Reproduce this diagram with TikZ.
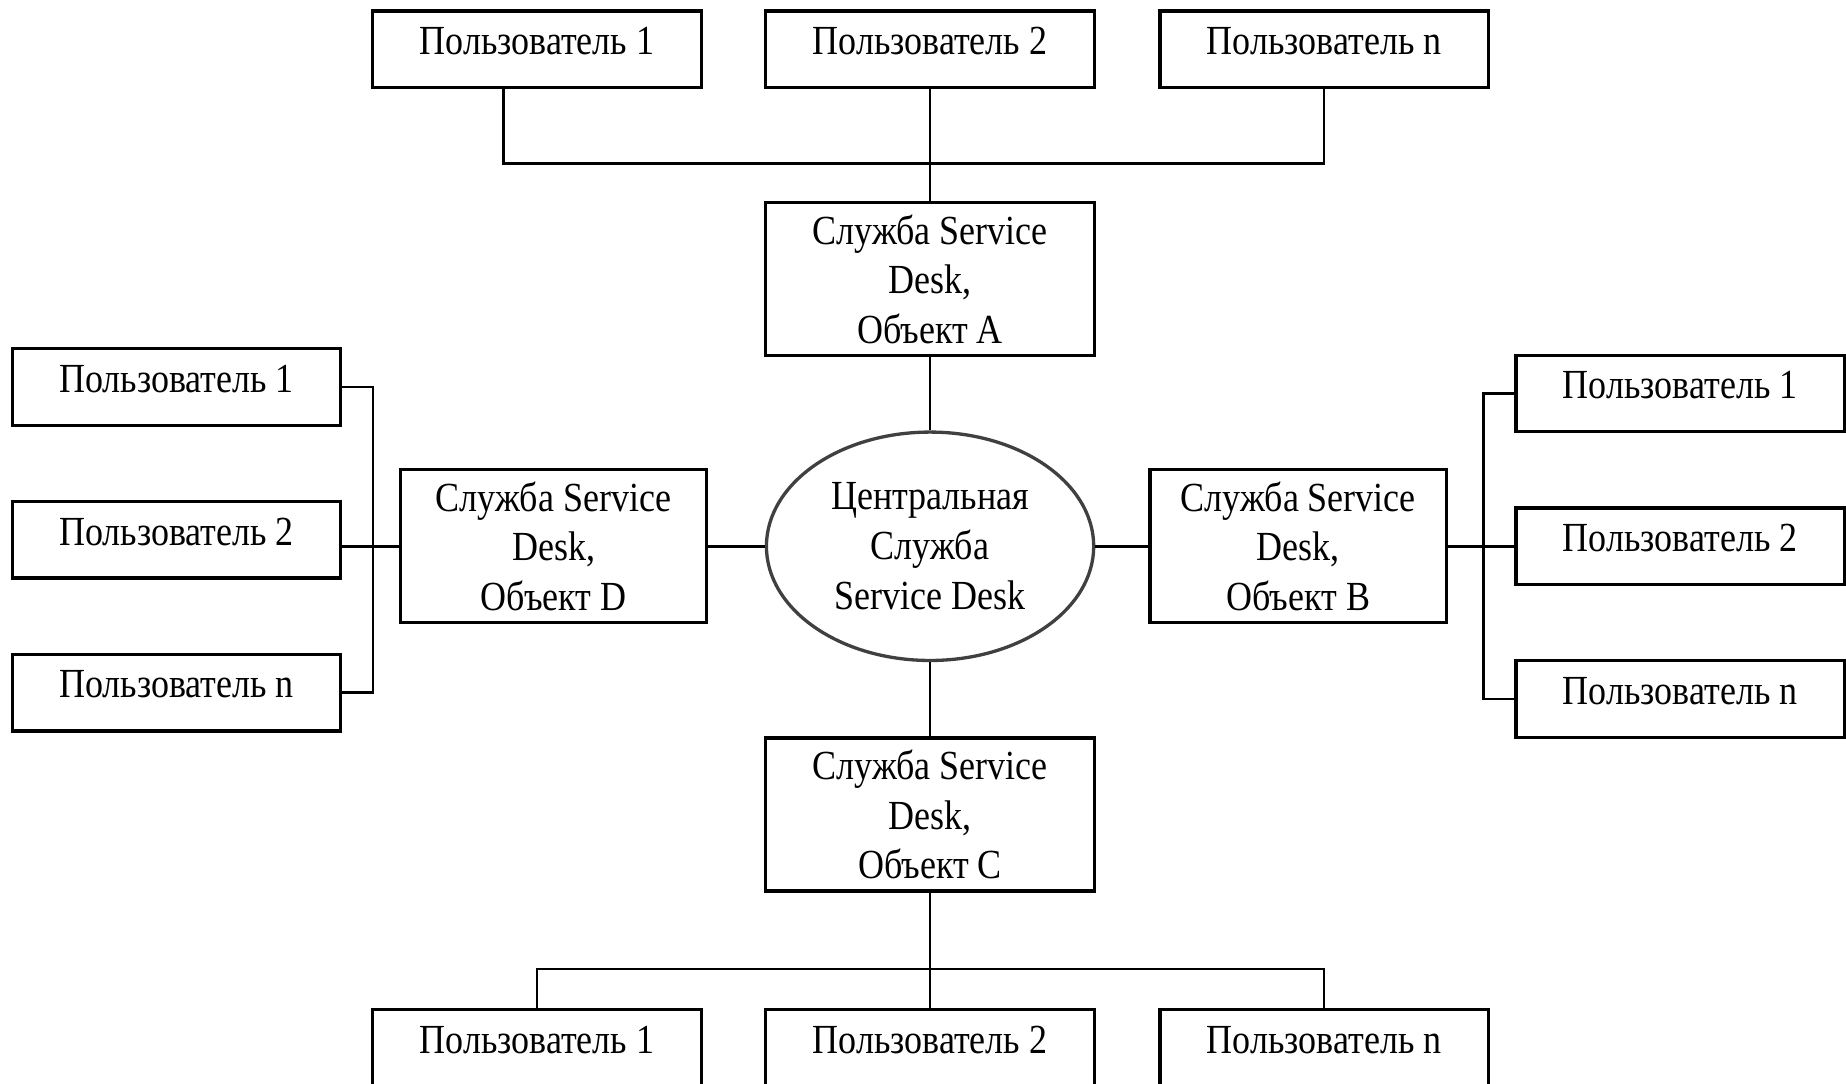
\documentclass[tikz,border=0pt]{standalone}
\usepackage{fontspec}
\setmainfont{Liberation Serif}[FakeStretch=0.87]
\usetikzlibrary{positioning,shapes.geometric}

\begin{document}
\begin{tikzpicture}[
    txt/.style={font=\fontsize{10}{12}\selectfont},
    user/.style={txt, draw, line width=0.8pt, minimum width=2.79cm, minimum height=0.65cm, inner sep=0pt, text height=0.23cm, text depth=0.14cm},
    sdbox/.style={txt, draw, line width=0.8pt, align=center, minimum width=2.79cm, minimum height=1.30cm, inner sep=0pt},
    hub/.style={txt, draw=black!75, line width=0.8pt, ellipse, align=center, minimum width=2.78cm, minimum height=1.94cm, inner sep=0pt},
    link/.style={line width=0.6pt}
]
\useasboundingbox (-7.90,-4.56) rectangle (7.78,4.64);

\node[hub] (central) {Центральная\\Служба\\Service Desk};

\node[sdbox, above=0.62cm of central] (sdA) {Служба Service\\Desk,\\Объект A};
\node[sdbox, below=0.63cm of central] (sdC) {Служба Service\\Desk,\\Объект C};
\node[sdbox, minimum width=2.60cm, left=0.48cm of central] (sdD) {Служба Service\\Desk,\\Объект D};
\node[sdbox, minimum width=2.52cm, right=0.45cm of central] (sdB) {Служба Service\\Desk,\\Объект B};

\node[user, above=0.95cm of sdA] (tu2) {Пользователь 2};
\node[user, left=0.52cm of tu2] (tu1) {Пользователь 1};
\node[user, right=0.53cm of tu2] (tu3) {Пользователь n};

\node[user, below=0.98cm of sdC] (bu2) {Пользователь 2};
\node[user, left=0.52cm of bu2] (bu1) {Пользователь 1};
\node[user, right=0.53cm of bu2] (bu3) {Пользователь n};

\node[user, left=0.48cm of sdD, yshift=0.055cm] (lu2) {Пользователь 2};
\node[user, above=0.62cm of lu2] (lu1) {Пользователь 1};
\node[user, below=0.62cm of lu2] (lu3) {Пользователь n};

\node[user, right=0.56cm of sdB] (ru2) {Пользователь 2};
\node[user, above=0.62cm of ru2] (ru1) {Пользователь 1};
\node[user, below=0.62cm of ru2] (ru3) {Пользователь n};

\coordinate (topbus) at (0,3.25);
\coordinate (botbus) at (0,-3.59);
\coordinate (lbus) at (-4.73,0);
\coordinate (rbus) at (4.70,0);

\draw[link] (central) -- (sdA);
\draw[link] (central) -- (sdC);
\draw[link] (central) -- (sdD);
\draw[link] (central) -- (sdB);

\draw[link] ([xshift=-2.85mm]tu1.south) |- (topbus) -| (tu3.south);
\draw[link] (tu2) -- (sdA);

\draw[link] (bu1.north) |- (botbus) -| (bu3.north);
\draw[link] (sdC) -- (bu2);

\draw[link] (lu1.east) -| (lbus) |- (lu3.east);
\draw[link] (sdD.west) -- (sdD.west -| lu2.east);

\draw[link] (ru1.west) -| (rbus) |- (ru3.west);
\draw[link] (sdB.east) -- (ru2.west);
\end{tikzpicture}
\end{document}
